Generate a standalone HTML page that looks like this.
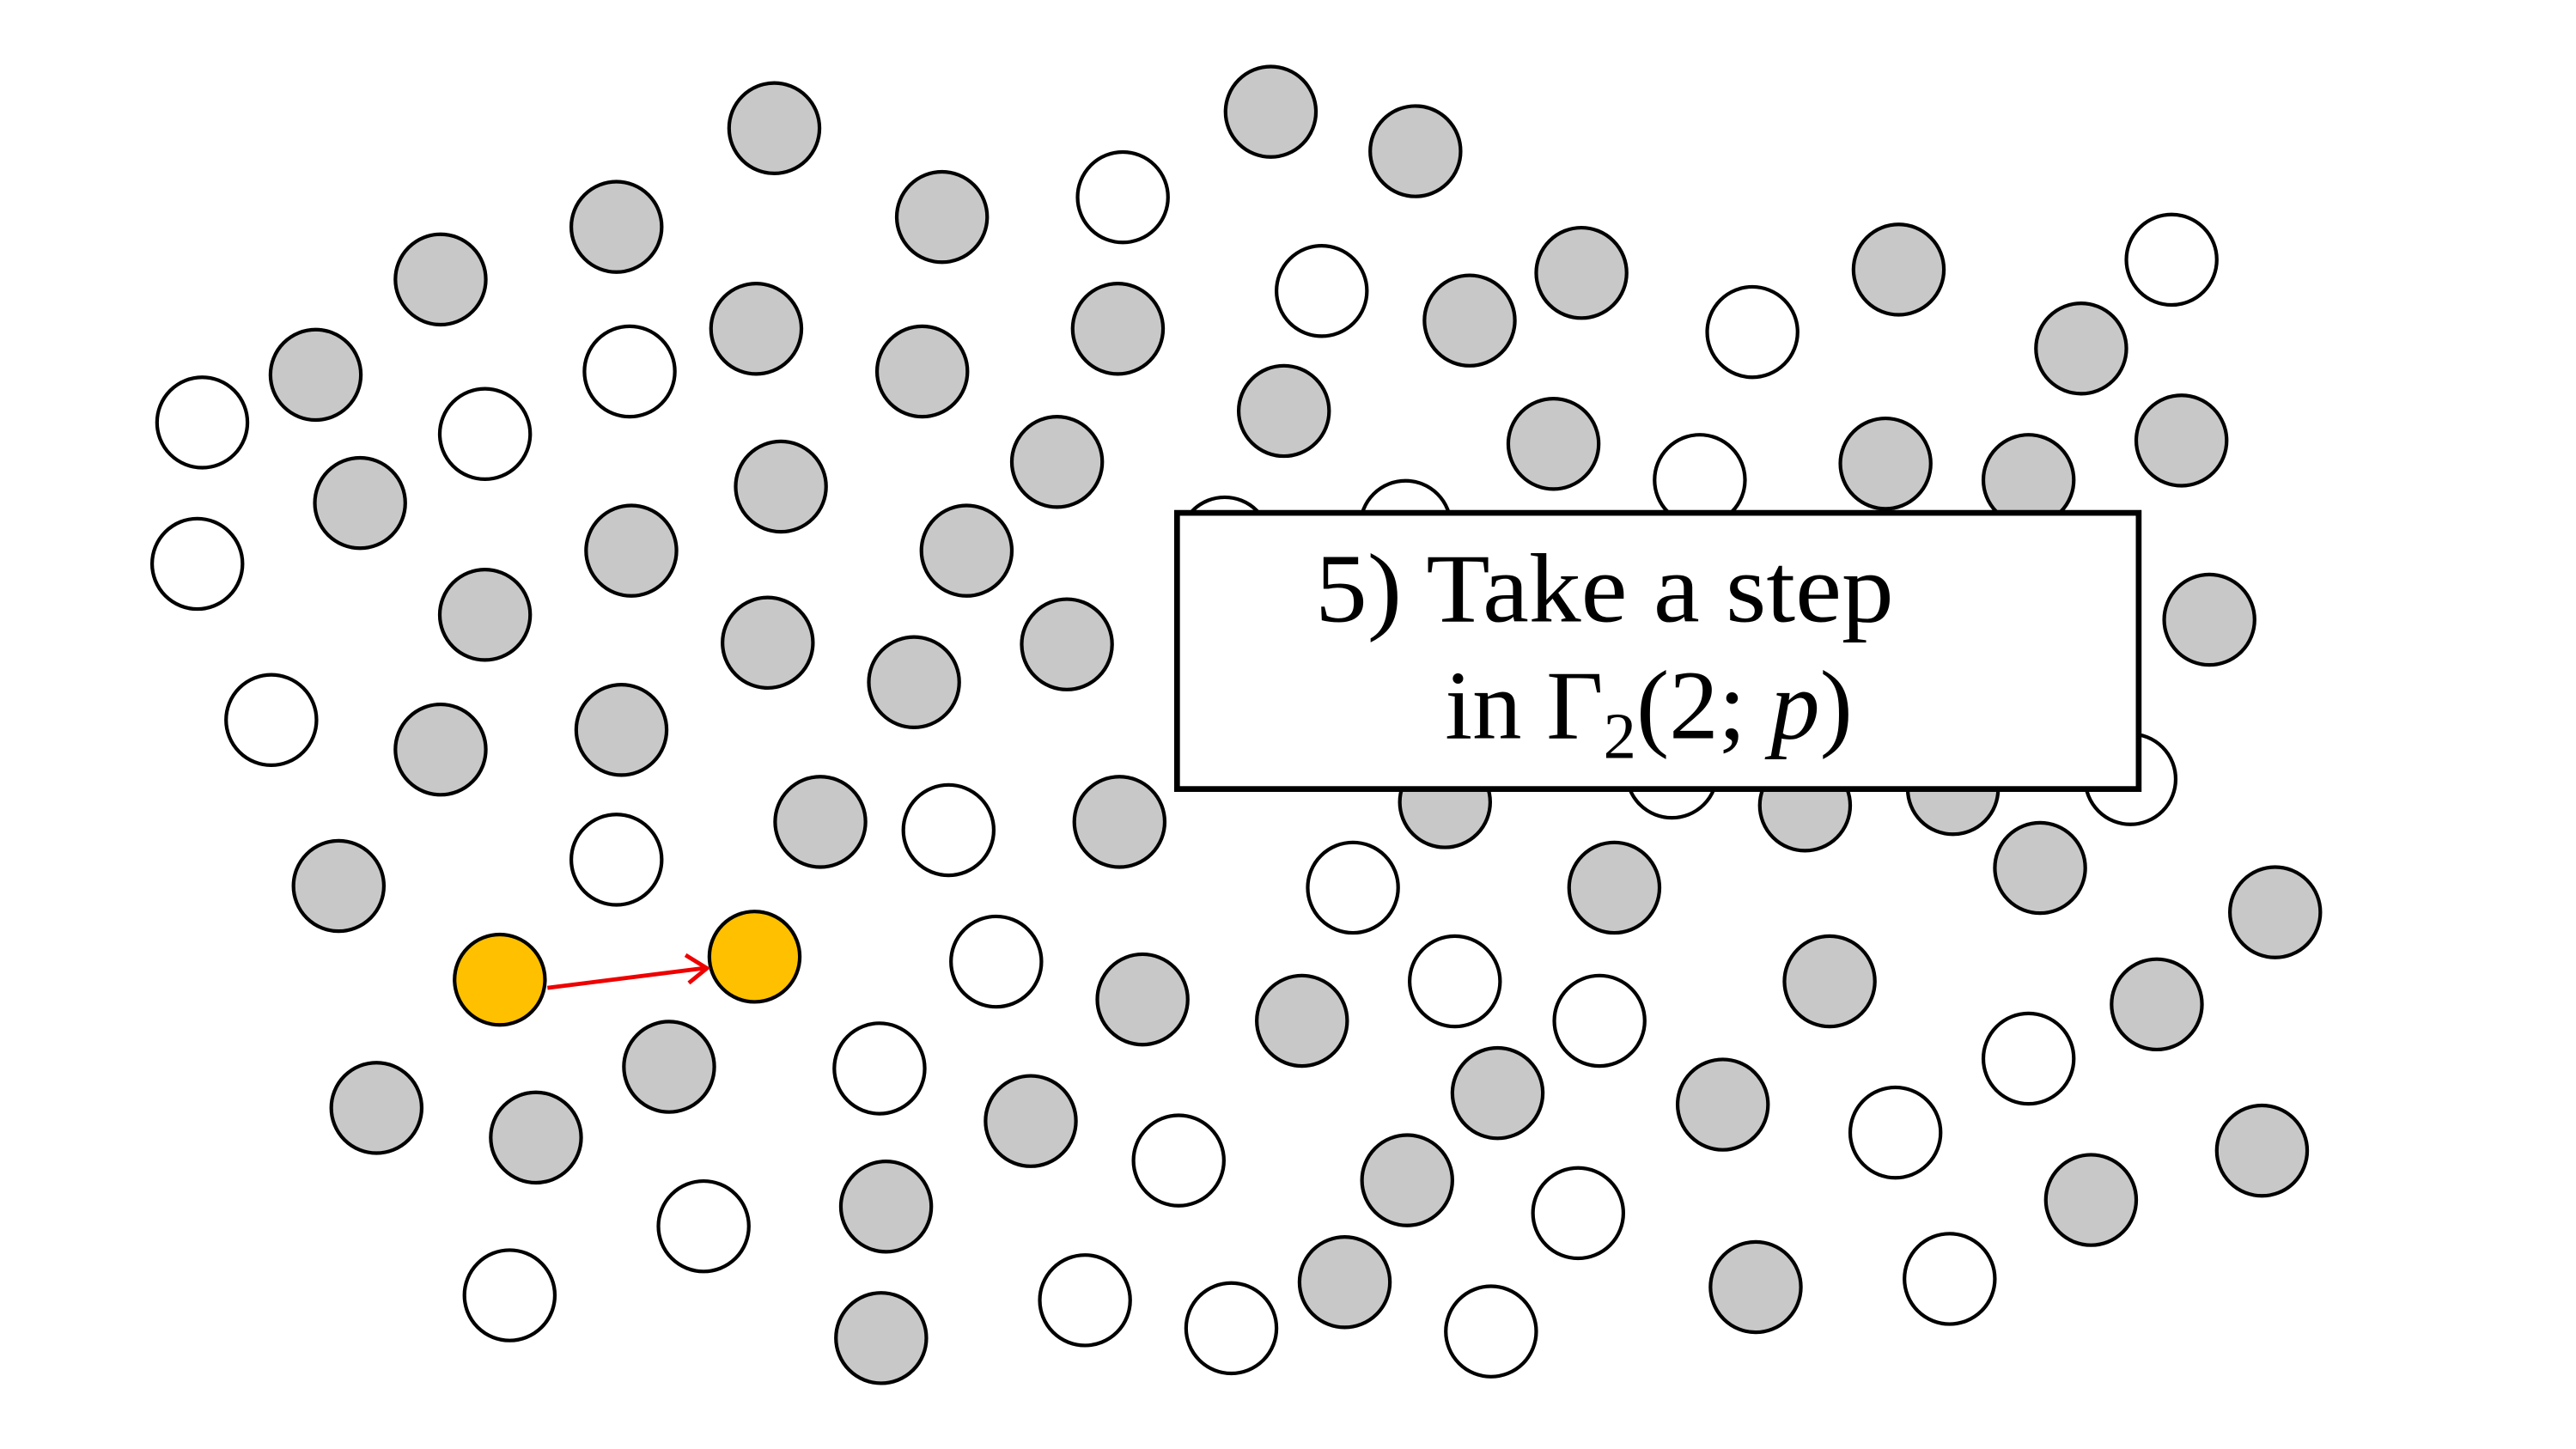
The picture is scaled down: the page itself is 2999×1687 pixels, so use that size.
<!DOCTYPE html>
<html><head><meta charset="utf-8"><style>
html,body{margin:0;padding:0;background:#fff;}
svg{display:block;}
</style></head><body>
<svg id="fig" width="2999" height="1687" viewBox="0 0 1567 881.5" xmlns="http://www.w3.org/2000/svg">
<g id="circles"></g>
<line x1="333" y1="601" x2="428" y2="589" stroke="#e00" stroke-width="2.5"/>
<polyline points="417,581 430,589 419,598" fill="none" stroke="#e00" stroke-width="2.5"/>
<rect x="716" y="312" width="585" height="168" fill="#fff" stroke="#000" stroke-width="3.5"/>
<text x="976" y="378" text-anchor="middle" font-family="Liberation Serif, serif" font-size="60" textLength="352" lengthAdjust="spacingAndGlyphs">5) Take a step</text>
<text x="1003" y="449" text-anchor="middle" font-family="Liberation Serif, serif" font-size="60">in Γ<tspan font-size="40" dy="12">2</tspan><tspan dy="-12">(2; </tspan><tspan font-style="italic">p</tspan>)</text>
</svg>
<script>
const xs=[471,773,861,375,573,683,268,192,460,383,561,680,804,894,962,1066,1155,1321,1266,123,219,295,475,643,781,945,1034,1147,1234,1327,120,384,588,745,855,295,467,649,1344,165,268,378,556,499,577,681,879,1017,1098,1188,1296,206,375,823,982,1241,1384,304,459,606,695,792,885,973,1113,1312,1234,229,326,407,535,627,717,911,1048,1153,1376,428,539,856,960,1272,310,536,660,749,818,907,1068,1186];
const ys=[78,68,92,138,132,120,170,228,200,226,226,200,177,195,166,202,164,158,212,257,306,264,296,281,250,270,292,282,292,268,343,335,335,330,320,374,391,392,377,438,456,444,415,500,505,500,488,470,490,480,474,539,523,540,540,528,555,596,582,585,608,621,597,621,597,611,644,674,692,649,650,682,706,665,672,689,700,746,734,718,738,730,788,814,791,808,780,810,783,778];
const kinds=["g","g","g","g","g","w","g","g","g","w","g","g","w","g","g","w","g","w","g","w","g","w","g","g","g","g","w","g","g","g","w","g","g","w","w","g","g","g","g","w","g","g","g","g","w","g","g","w","g","g","w","g","w","w","g","g","g","o","o","w","g","g","w","w","g","g","w","g","g","g","w","g","w","g","g","w","g","w","g","g","w","g","w","g","w","w","g","w","g","w"];
const fills={g:"#c8c8c8",w:"#ffffff",o:"#ffc000"};
const g=document.getElementById('circles');
const NS="http://www.w3.org/2000/svg";
for(let i=0;i<xs.length;i++){
  const c=document.createElementNS(NS,'circle');
  c.setAttribute('cx',xs[i]);c.setAttribute('cy',ys[i]);c.setAttribute('r',27.5);
  const k=kinds[i]||'g';
  c.setAttribute('fill',fills[k]);c.setAttribute('stroke','#000');c.setAttribute('stroke-width',2.2);
  
  
  g.appendChild(c);
}
</script>
</body></html>
